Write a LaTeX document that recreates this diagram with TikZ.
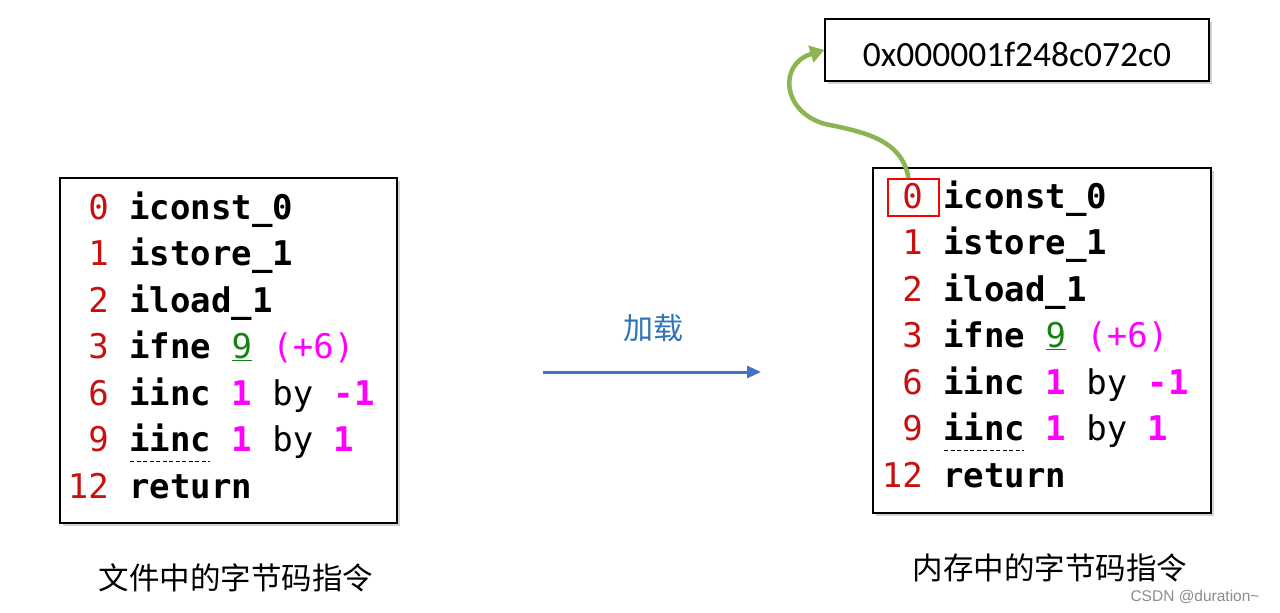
\documentclass[tikz,border=0pt]{standalone}
\usepackage{fontspec}
\usetikzlibrary{arrows.meta,shadows}
\newfontfamily\codefont{DejaVu Sans Mono}
\newfontfamily\cjkfont{Noto Sans CJK SC}
\newfontfamily\addrfont{Carlito}
\newfontfamily\wmfont{Liberation Sans}
\definecolor{numred}{RGB}{200,16,16}
\definecolor{mag}{RGB}{255,0,255}
\definecolor{grn}{RGB}{20,130,20}
\definecolor{arrgreen}{RGB}{141,180,82}
\definecolor{arrblue}{RGB}{68,114,196}
\definecolor{lblblue}{RGB}{46,117,182}
\tikzset{
  codebox/.style={draw=black, line width=1.5pt, fill=white, inner sep=0pt,
    drop shadow={shadow xshift=3pt, shadow yshift=-3pt, opacity=0.35, fill=gray}},
  num/.style={anchor=base east, inner sep=0pt, text=numred, font=\codefont\fontsize{34}{40}\selectfont},
  ins/.style={anchor=base west, inner sep=0pt, font=\codefont\fontsize{34}{40}\selectfont},
  caption/.style={font=\cjkfont\fontsize{30.5}{36}\selectfont},
}
\newcommand{\ib}[1]{\textbf{#1}}
\newcommand{\mg}[1]{\textcolor{mag}{#1}}
\begin{document}
\begin{tikzpicture}[x=1pt,y=-1pt]
\useasboundingbox[fill=white] (0,0) rectangle (1280,613);
% left box
\node[codebox, minimum width=337pt, minimum height=345pt] (lbox) at (228.5,350.5) {};
\node[num] (ln0) at (109,219) {0};
\node[ins] (li0) at (129,219) {\ib{iconst\_0}};
\node[num] (ln1) at (109,265.5) {1};
\node[ins] (li1) at (129,265.5) {\ib{istore\_1}};
\node[num] (ln2) at (109,312) {2};
\node[ins] (li2) at (129,312) {\ib{iload\_1}};
\node[num] (ln3) at (109,358.5) {3};
\node[ins] (li3) at (129,358.5) {\ib{ifne} \textcolor{grn}{\underline{9}} \mg{(+6)}};
\node[num] (ln6) at (109,405) {6};
\node[ins] (li6) at (129,405) {\ib{iinc} \mg{\ib{1}} by \mg{\ib{-1}}};
\node[num] (ln9) at (109,451.5) {9};
\node[ins] (li9) at (129,451.5) {\ib{iinc} \mg{\ib{1}} by \mg{\ib{1}}};
\node[num] (ln12) at (109,498) {12};
\node[ins] (li12) at (129,498) {\ib{return}};
\draw[dashed, dash pattern=on 4pt off 2.5pt, line width=1.2pt] ([xshift=1pt,yshift=-10pt]li9.base west) -- ++(80,0);
% right box
\node[codebox, minimum width=338pt, minimum height=345pt] (rbox) at (1042,340.5) {};
\node[num] (rn0) at (923,208) {0};
\node[ins] (ri0) at (943,208) {\ib{iconst\_0}};
\node[num] (rn1) at (923,254.5) {1};
\node[ins] (ri1) at (943,254.5) {\ib{istore\_1}};
\node[num] (rn2) at (923,301) {2};
\node[ins] (ri2) at (943,301) {\ib{iload\_1}};
\node[num] (rn3) at (923,347.5) {3};
\node[ins] (ri3) at (943,347.5) {\ib{ifne} \textcolor{grn}{\underline{9}} \mg{(+6)}};
\node[num] (rn6) at (923,394) {6};
\node[ins] (ri6) at (943,394) {\ib{iinc} \mg{\ib{1}} by \mg{\ib{-1}}};
\node[num] (rn9) at (923,440.5) {9};
\node[ins] (ri9) at (943,440.5) {\ib{iinc} \mg{\ib{1}} by \mg{\ib{1}}};
\node[num] (rn12) at (923,487) {12};
\node[ins] (ri12) at (943,487) {\ib{return}};
\draw[dashed, dash pattern=on 4pt off 2.5pt, line width=1.2pt] ([xshift=1pt,yshift=-10pt]ri9.base west) -- ++(80,0);
\node[draw=red, line width=2pt, minimum width=51pt, minimum height=37pt, inner sep=0pt] (zbox) at (913.5,197.5) {};
% address box
\node[codebox, minimum width=384pt, minimum height=62pt] (addr) at (1017,50) {};
\node[font=\addrfont\fontsize{35.5}{40}\selectfont, inner sep=0pt] (addrtxt) at (1017,54) {0x000001f248c072c0};
% green arrow
\draw[arrgreen, line width=4.5pt, -{Triangle[length=14pt,width=17pt]}]
  ([xshift=-5pt]zbox.north) .. controls (902,140) and (865,132) .. (825,124)
  .. controls (782,112) and (778,64) .. (addr.west);
% blue arrow
\coordinate (bs) at (543,372);
\coordinate (be) at (761,372);
\draw[arrblue, line width=3pt, -{Triangle[length=14pt,width=12pt]}] (bs) -- (be);
\node[font=\cjkfont\fontsize{30}{36}\selectfont, text=lblblue] (load) at (653,328) {加载};
% captions
\node[caption] (lcap) at (236,578) {文件中的字节码指令};
\node[caption] (rcap) at (1050,568) {内存中的字节码指令};
\node[font=\wmfont\fontsize{15.5}{18}\selectfont, text=black!45, anchor=west] (wm) at (1127,597) {CSDN @duration\textasciitilde};
\end{tikzpicture}
\end{document}
